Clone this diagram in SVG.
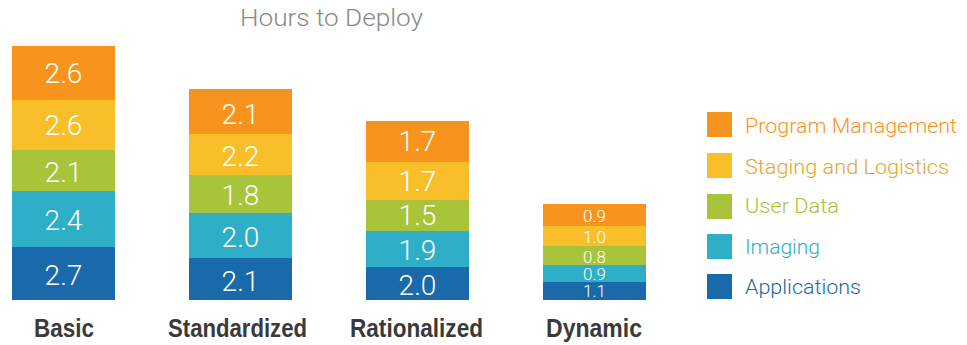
<svg xmlns="http://www.w3.org/2000/svg" width="967" height="345" viewBox="0 0 967 345">
<style>
.pm{fill:#F7941E}.sl{fill:#F9BF2A}.ud{fill:#A7C43A}.im{fill:#2FAFC7}.ap{fill:#1A69AA}
.v{font-family:Roboto,"Liberation Sans",sans-serif;font-weight:300;font-size:28px;fill:#fff;text-anchor:middle}
.vs{font-size:17px}
.cat{font-family:"Liberation Sans Narrow","Liberation Sans",sans-serif;font-weight:bold;font-size:26px;fill:#3a3a3a;text-anchor:middle}
.lg{font-family:Roboto,"Liberation Sans",sans-serif;font-weight:300;font-size:20px}
.title{font-family:Roboto,"Liberation Sans",sans-serif;font-weight:300;font-size:23px;fill:#8a8a8a}
</style>
<rect width="967" height="345" fill="#fff"/>
<text class="title" x="240" y="26" textLength="183" lengthAdjust="spacingAndGlyphs">Hours to Deploy</text>
<g id="basic">
<rect class="pm" x="12" y="46" width="103" height="54"/>
<rect class="sl" x="12" y="100" width="103" height="50"/>
<rect class="ud" x="12" y="150" width="103" height="41"/>
<rect class="im" x="12" y="191" width="103" height="56"/>
<rect class="ap" x="12" y="247" width="103" height="53"/>
<text class="v" x="63.5" y="83">2.6</text>
<text class="v" x="63.5" y="135">2.6</text>
<text class="v" x="63.5" y="181.5">2.1</text>
<text class="v" x="63.5" y="230">2.4</text>
<text class="v" x="63.5" y="285">2.7</text>
<text class="cat" x="64" y="337" textLength="60" lengthAdjust="spacingAndGlyphs">Basic</text>
</g>
<g id="standardized">
<rect class="pm" x="189" y="89" width="103" height="45"/>
<rect class="sl" x="189" y="134" width="103" height="41"/>
<rect class="ud" x="189" y="175" width="103" height="38"/>
<rect class="im" x="189" y="213" width="103" height="45"/>
<rect class="ap" x="189" y="258" width="103" height="42"/>
<text class="v" x="240.5" y="124">2.1</text>
<text class="v" x="240.5" y="165.5">2.2</text>
<text class="v" x="240.5" y="204.5">1.8</text>
<text class="v" x="240.5" y="246.5">2.0</text>
<text class="v" x="240.5" y="290.5">2.1</text>
<text class="cat" x="237.5" y="337" textLength="139" lengthAdjust="spacingAndGlyphs">Standardized</text>
</g>
<g id="rationalized">
<rect class="pm" x="366" y="121" width="103" height="41"/>
<rect class="sl" x="366" y="162" width="103" height="38"/>
<rect class="ud" x="366" y="200" width="103" height="31"/>
<rect class="im" x="366" y="231" width="103" height="36"/>
<rect class="ap" x="366" y="267" width="103" height="33"/>
<text class="v" x="417.5" y="151">1.7</text>
<text class="v" x="417.5" y="191">1.7</text>
<text class="v" x="417.5" y="225">1.5</text>
<text class="v" x="417.5" y="260">1.9</text>
<text class="v" x="417.5" y="295">2.0</text>
<text class="cat" x="416.5" y="337" textLength="133" lengthAdjust="spacingAndGlyphs">Rationalized</text>
</g>
<g id="dynamic">
<rect class="pm" x="543" y="204" width="103" height="22"/>
<rect class="sl" x="543" y="226" width="103" height="20"/>
<rect class="ud" x="543" y="246" width="103" height="19"/>
<rect class="im" x="543" y="265" width="103" height="17"/>
<rect class="ap" x="543" y="282" width="103" height="18"/>
<text class="v vs" x="594.5" y="221.5">0.9</text>
<text class="v vs" x="594.5" y="242.5">1.0</text>
<text class="v vs" x="594.5" y="262.5">0.8</text>
<text class="v vs" x="594.5" y="280">0.9</text>
<text class="v vs" x="594.5" y="296.5">1.1</text>
<text class="cat" x="594" y="337" textLength="96" lengthAdjust="spacingAndGlyphs">Dynamic</text>
</g>
<g id="legend">
<rect class="pm" x="707" y="112" width="25" height="25"/>
<rect class="sl" x="707" y="153" width="25" height="25"/>
<rect class="ud" x="707" y="194" width="25" height="25"/>
<rect class="im" x="707" y="234" width="25" height="25"/>
<rect class="ap" x="707" y="274" width="25" height="25"/>
<text class="lg" x="745" y="133" fill="#F7941E" textLength="212" lengthAdjust="spacingAndGlyphs">Program Management</text>
<text class="lg" x="745" y="174" fill="#E6A62C" textLength="204" lengthAdjust="spacingAndGlyphs">Staging and Logistics</text>
<text class="lg" x="745" y="213" fill="#A7C43A" textLength="94" lengthAdjust="spacingAndGlyphs">User Data</text>
<text class="lg" x="745" y="254" fill="#2FAFC7" textLength="75" lengthAdjust="spacingAndGlyphs">Imaging</text>
<text class="lg" x="745" y="294" fill="#1A69AA" textLength="116" lengthAdjust="spacingAndGlyphs">Applications</text>
</g>
</svg>
